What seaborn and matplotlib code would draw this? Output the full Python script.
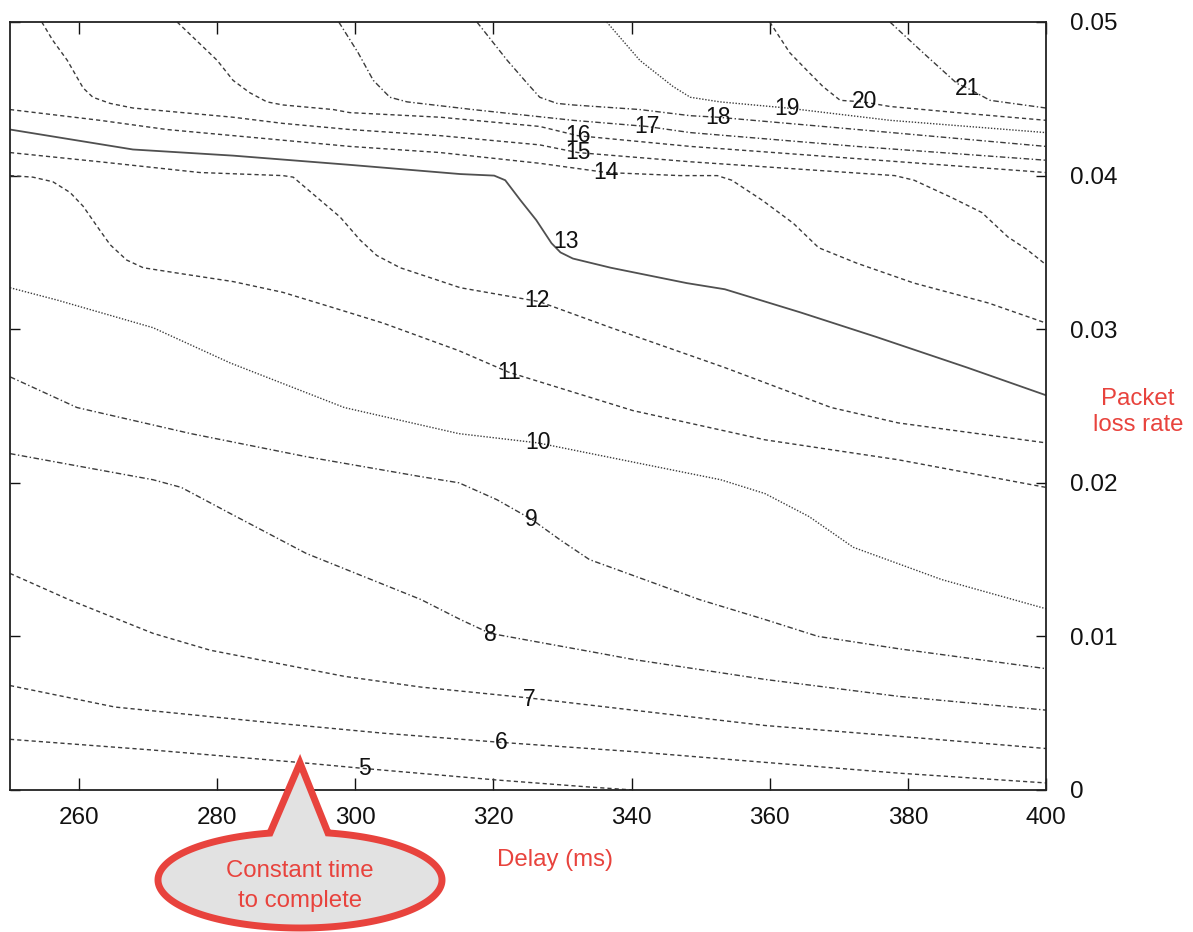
import numpy as np
import pandas as pd
import matplotlib
matplotlib.use("Agg")
import matplotlib.pyplot as plt
import seaborn as sns
from matplotlib.patches import Polygon
from matplotlib.ticker import FuncFormatter

# ---- contour levels (time to complete) ----
levels = [5, 6, 7, 8, 9, 10, 11, 12, 13, 14, 15, 16, 17, 18, 19, 20, 21]

# ---- iso-lines: delay (ms) vs packet loss rate ----
c5_delay = [250, 270.7, 291.7, 301.3, 320.5, 333.7, 340.2]
c5_loss = [0.0033, 0.0026, 0.0018, 0.0014, 0.00065, 0.0002, 0.0]

c6_delay = [250, 265.2, 287.4, 304.0, 321.1, 340.2, 359.3, 378.6, 400]
c6_loss = [0.0068, 0.0054, 0.0044, 0.0037, 0.0031, 0.0025, 0.0018, 0.0011, 0.00046]

c7_delay = [250, 258.5, 270.7, 279.0, 298.4, 309.5, 325.0, 340.2, 359.3, 378.6, 400]
c7_loss = [0.0141, 0.0124, 0.0102, 0.0091, 0.0074, 0.0067, 0.0060, 0.0052, 0.0042, 0.0035, 0.0027]

c8_delay = [250, 270.7, 274.8, 281.9, 292.9, 309.5, 315.2, 319.5, 335.4, 340.2, 359.3, 378.6, 400]
c8_loss = [0.0219, 0.0202, 0.0197, 0.0180, 0.0154, 0.0124, 0.0111, 0.0102, 0.0089, 0.0085, 0.0072, 0.0061, 0.0052]

c9_delay = [250, 259.7, 276.2, 292.9, 309.5, 315.0, 320.5, 325.6, 329.6, 333.9, 349.8, 359.3, 367.0, 378.6, 400]
c9_loss = [0.0269, 0.0249, 0.0232, 0.0217, 0.0204, 0.0200, 0.0189, 0.0176, 0.0163, 0.0150, 0.0124, 0.0111, 0.0100, 0.0092, 0.0079]

c10_delay = [250, 256.8, 270.7, 281.9, 298.4, 315.0, 326.4, 352.9, 359.3, 365.7, 372.1, 384.9, 400]
c10_loss = [0.0327, 0.0319, 0.0301, 0.0278, 0.0249, 0.0232, 0.0226, 0.0202, 0.0193, 0.0178, 0.0158, 0.0137, 0.0118]

c11_delay = [250, 253.3, 256.2, 258.7, 260.6, 262.6, 264.5, 266.9, 269.3, 275.0, 282.3, 289.5,
             296.8, 304.0, 315.0, 322.2, 340.2, 359.3, 378.6, 400]
c11_loss = [0.0400, 0.0399, 0.0396, 0.0389, 0.0380, 0.0367, 0.0355, 0.0345, 0.0340, 0.0336, 0.0331, 0.0324,
            0.0314, 0.0304, 0.0286, 0.0272, 0.0247, 0.0228, 0.0215, 0.0197]

c12_delay = [250, 263.0, 277.5, 289.5, 291.0, 294.4, 297.8, 300.7, 303.1, 306.5, 311.2, 315.2,
             326.6, 337.0, 353.5, 368.9, 378.6, 400]
c12_loss = [0.0415, 0.0409, 0.0402, 0.0400, 0.0399, 0.0386, 0.0373, 0.0358, 0.0348, 0.0340, 0.0333, 0.0327,
            0.0318, 0.0301, 0.0275, 0.0249, 0.0239, 0.0226]

c13_delay = [250, 267.8, 282.3, 299.2, 315.2, 320.1, 321.7, 323.9, 326.2, 328.4, 329.7, 331.5,
             337.0, 348.0, 353.5, 364.4, 375.4, 388.6, 400]
c13_loss = [0.0430, 0.0417, 0.0413, 0.0407, 0.0401, 0.0400, 0.0397, 0.0384, 0.0371, 0.0356, 0.0350, 0.0346,
            0.0340, 0.0330, 0.0326, 0.0311, 0.0295, 0.0275, 0.0257]

c14_delay = [250, 263.0, 272.7, 287.2, 299.2, 312.3, 326.7, 336.4, 347.0, 352.4, 354.5, 358.9,
             363.4, 367.1, 372.6, 380.9, 391.7, 400]
c14_loss = [0.0443, 0.0436, 0.0430, 0.0424, 0.0419, 0.0415, 0.0408, 0.0402, 0.0400, 0.0400, 0.0397, 0.0384,
            0.0369, 0.0353, 0.0343, 0.0330, 0.0317, 0.0304]

c15_delay = [254.6, 256.2, 258.3, 259.7, 260.6, 262.0, 264.5, 267.8, 275.0, 282.3, 289.5, 299.2,
             312.3, 326.7, 332.2, 348.5, 378.1, 380.9, 386.2, 390.7, 394.5, 397.2, 400]
c15_loss = [0.0500, 0.0488, 0.0475, 0.0464, 0.0457, 0.0451, 0.0447, 0.0444, 0.0441, 0.0438, 0.0434, 0.0430,
            0.0426, 0.0420, 0.0415, 0.0409, 0.0400, 0.0397, 0.0386, 0.0376, 0.0360, 0.0352, 0.0342]

c16_delay = [274.2, 280.0, 282.3, 284.7, 287.2, 289.5, 296.8, 299.2, 312.3, 326.7, 332.2, 348.5, 400]
c16_loss = [0.0500, 0.0475, 0.0462, 0.0454, 0.0448, 0.0446, 0.0443, 0.0441, 0.0438, 0.0432, 0.0426, 0.0419, 0.0402]

c17_delay = [297.6, 300.4, 302.6, 305.0, 307.5, 317.0, 331.5, 342.2, 348.5, 372.6, 400]
c17_loss = [0.0500, 0.0480, 0.0462, 0.0451, 0.0448, 0.0443, 0.0436, 0.0432, 0.0428, 0.0419, 0.0410]

c18_delay = [317.6, 322.0, 324.9, 326.7, 329.2, 331.5, 341.2, 348.5, 352.5, 367.7, 400]
c18_loss = [0.0500, 0.0475, 0.0460, 0.0451, 0.0447, 0.0446, 0.0443, 0.0439, 0.0438, 0.0432, 0.0419]

c19_delay = [336.4, 341.2, 346.0, 348.5, 352.8, 362.5, 377.4, 400]
c19_loss = [0.0500, 0.0475, 0.0458, 0.0451, 0.0448, 0.0444, 0.0436, 0.0428]

c20_delay = [360.0, 362.9, 365.5, 367.7, 370.2, 373.5, 377.4, 387.1, 400]
c20_loss = [0.0500, 0.0480, 0.0468, 0.0458, 0.0449, 0.0448, 0.0445, 0.0441, 0.0436]

c21_delay = [377.4, 382.2, 387.1, 388.6, 391.9, 400]
c21_loss = [0.0500, 0.0480, 0.0460, 0.0457, 0.0449, 0.0444]

# ---- inline level labels ----
label_delay = [301.3, 321.1, 325.1, 319.5, 325.4, 326.4, 322.2, 326.3, 330.5,
               336.3, 332.2, 332.2, 342.2, 352.5, 362.5, 373.8, 388.6]
label_loss = [0.0014, 0.0031, 0.0059, 0.0101, 0.0176, 0.0226, 0.0272, 0.0319, 0.0357,
              0.0402, 0.0415, 0.0426, 0.0432, 0.0438, 0.0444, 0.0448, 0.0457]

x_ticks = [260, 280, 300, 320, 340, 360, 380, 400]
y_ticks = [0.0, 0.01, 0.02, 0.03, 0.04, 0.05]

contours = [
    (c5_delay, c5_loss), (c6_delay, c6_loss), (c7_delay, c7_loss), (c8_delay, c8_loss),
    (c9_delay, c9_loss), (c10_delay, c10_loss), (c11_delay, c11_loss), (c12_delay, c12_loss),
    (c13_delay, c13_loss), (c14_delay, c14_loss), (c15_delay, c15_loss), (c16_delay, c16_loss),
    (c17_delay, c17_loss), (c18_delay, c18_loss), (c19_delay, c19_loss), (c20_delay, c20_loss),
    (c21_delay, c21_loss),
]

# line dash pattern per level
DASH = (0, (3.0, 2.2))
DASHDOT = (0, (4.0, 1.8, 1.0, 1.8))
DOT = (0, (1.0, 1.2))
SOLID = "-"
level_style = {
    5: DASH, 6: DASH, 7: DASH, 8: DASHDOT, 9: DASHDOT, 10: DOT, 11: DASH, 12: DASH,
    13: SOLID, 14: DASH, 15: DASH, 16: DASH, 17: DASHDOT, 18: DASHDOT, 19: DOT,
    20: DASH, 21: DASHDOT,
}

sns.set_theme(style="white")
plt.rcParams["font.family"] = ["Liberation Sans", "DejaVu Sans"]

W, H = 1193, 932
fig = plt.figure(figsize=(W / 100, H / 100), dpi=100)
ax = fig.add_axes([10 / W, 1 - 790 / H, 1036 / W, 768 / H])
ax.set_facecolor("white")

for lev, (dl, ls) in zip(levels, contours):
    df = pd.DataFrame({"delay": dl, "loss": ls})
    sns.lineplot(data=df, x="delay", y="loss", sort=False, estimator=None,
                 color="#3c3c3c" if lev != 13 else "#505050",
                 linewidth=1.0 if lev != 13 else 1.3,
                 linestyle=level_style[lev], ax=ax)

for lev, lx, ly in zip(levels, label_delay, label_loss):
    ax.text(lx, ly, str(lev), ha="center", va="center", fontsize=16.5, color="#111111", zorder=4)

ax.set_xlim(250, 400)
ax.set_ylim(0, 0.05)
ax.set_xticks(x_ticks)
ax.set_yticks(y_ticks)
ax.set_xlabel("")
ax.set_ylabel("")
ax.yaxis.set_major_formatter(FuncFormatter(lambda v, p: "0" if abs(v) < 1e-12 else f"{v:.2f}"))
ax.tick_params(axis="x", direction="in", length=8.5, width=1.0, top=True, bottom=True,
               labelbottom=True, labelsize=17.5, pad=12, colors="#111111")
ax.tick_params(axis="y", direction="in", length=7, width=1.0, left=True, right=True,
               labelleft=False, labelright=True, labelsize=17.5, pad=17, colors="#111111")
for s in ax.spines.values():
    s.set_visible(True)
    s.set_color("#222222")
    s.set_linewidth(1.3)

red = "#e8433d"
fig.text(555 / W, 1 - 860 / H, "Delay (ms)", ha="center", va="center", fontsize=17.3, color=red)
fig.text(1138 / W, 1 - 412 / H, "Packet\nloss rate", ha="center", va="center", fontsize=17.3,
         color=red, linespacing=1.25)

# callout balloon: ellipse with a pointer towards the iso-line
cx, cy, a, b = 300.0, 880.0, 142.0, 48.0
tip = (300.0, 763.0)
xr, xl = 328.0, 270.0
t0 = np.arccos((xr - cx) / a)
t1 = np.arccos((xl - cx) / a) - 2 * np.pi
t = np.linspace(t0, t1, 240)
ex = cx + a * np.cos(t)
ey = cy - b * np.sin(t)
px = np.concatenate([[tip[0]], ex])
py = np.concatenate([[tip[1]], ey])
pts = np.column_stack([px / W, 1 - py / H])
balloon = Polygon(pts, closed=True, transform=fig.transFigure, facecolor="#e2e2e2",
                  edgecolor=red, linewidth=5, joinstyle="miter", zorder=10)
fig.add_artist(balloon)
fig.text(cx / W, 1 - 871 / H, "Constant time", ha="center", va="center", fontsize=17.3,
         color=red, zorder=11)
fig.text(cx / W, 1 - 901 / H, "to complete", ha="center", va="center", fontsize=17.3,
         color=red, zorder=11)

fig.savefig("out.png", dpi=100)
